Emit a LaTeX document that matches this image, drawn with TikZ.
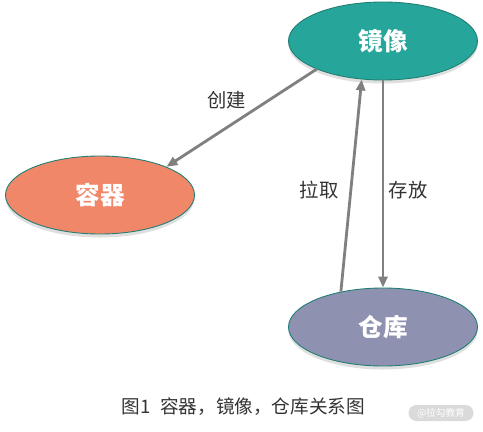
\documentclass[tikz,border=0pt]{standalone}
\usepackage{fontspec}
\newfontfamily\cjk{Noto Sans CJK SC}
\usepackage{tikz}
\usetikzlibrary{shapes.geometric,arrows.meta,shadows}
\definecolor{jxteal}{HTML}{26A69A}
\definecolor{rqsalmon}{HTML}{F08769}
\definecolor{ckslate}{HTML}{8E92B0}
\definecolor{rimteal}{HTML}{1F7E74}
\definecolor{linkgray}{HTML}{808080}
\definecolor{captext}{HTML}{333333}
\definecolor{markgray}{HTML}{DADADA}
\begin{document}
\begin{tikzpicture}[
  blob/.style={ellipse,draw=rimteal,line width=0.5pt,minimum width=3.78cm,minimum height=1.56cm,inner sep=0pt,text=white,font=\cjk\bfseries\fontsize{14}{16}\selectfont,drop shadow={shadow xshift=0pt,shadow yshift=-2pt,opacity=0.25}},
  link/.style={draw=linkgray,line width=1.6pt,-{Triangle[length=0.22cm,width=0.18cm]}},
  tag/.style={text=captext,font=\cjk\fontsize{11}{13}\selectfont}
]
\useasboundingbox (0,0) rectangle (9.66,8.62);
\node[blob,fill=jxteal] (jx) at (7.66,7.80) {镜像};
\node[blob,fill=rqsalmon] (rq) at (2.00,4.72) {容器};
\node[blob,fill=ckslate] (ck) at (7.66,2.08) {仓库};
\draw[link] (jx.203) -- (rq.23);
\draw[link] (ck.140) -- (jx.241);
\draw[link] (jx.south) -- (ck.north);
\node[tag] (cj) at (4.54,6.62) {创建};
\node[tag] (lq) at (6.38,4.82) {拉取};
\node[tag] (cf) at (8.16,4.82) {存放};
\node[text=captext,font=\cjk\fontsize{10.6}{12}\selectfont] (cap) at (4.87,0.48) {图1\hspace{0.5em}容器，镜像，仓库关系图};
\node[fill=markgray,rounded corners=0.16cm,minimum width=1.3cm,minimum height=0.32cm,inner sep=0pt,text=white,font=\cjk\fontsize{5.5}{6}\selectfont] (mark) at (8.82,0.36) {@拉勾教育};
\end{tikzpicture}
\end{document}
